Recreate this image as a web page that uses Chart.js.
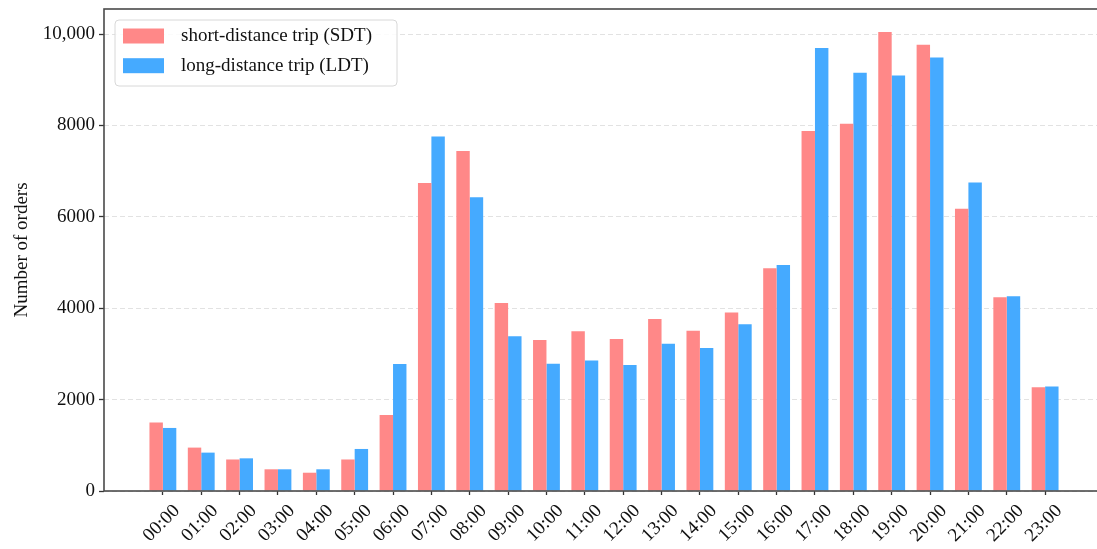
<!DOCTYPE html>
<html>
<head>
<meta charset="utf-8">
<title>Orders by hour</title>
<script src="https://cdn.jsdelivr.net/npm/chart.js@4/dist/chart.umd.min.js"></script>
<style>
  html, body { margin: 0; padding: 0; background: #fff; overflow: hidden; }
  #wrap { width: 1112px; height: 549px; }
</style>
</head>
<body>
<div id="wrap"><canvas id="orders" width="1112" height="549"></canvas></div>
<script>
// hourly order counts
const hours = ['00:00', '01:00', '02:00', '03:00', '04:00', '05:00', '06:00', '07:00',
  '08:00', '09:00', '10:00', '11:00', '12:00', '13:00', '14:00', '15:00',
  '16:00', '17:00', '18:00', '19:00', '20:00', '21:00', '22:00', '23:00'];
const sdt = [1500, 950, 690, 475, 400, 690, 1665, 6740, 7440, 4115, 3305, 3495,
  3325, 3765, 3510, 3905, 4875, 7880, 8040, 10045, 9770, 6180, 4240, 2270];
const ldt = [1380, 840, 715, 475, 475, 920, 2780, 7760, 6430, 3385, 2785, 2855,
  2760, 3225, 3130, 3650, 4945, 9695, 9155, 9095, 9490, 6750, 4265, 2290];
const yTicks = [0, 2000, 4000, 6000, 8000, 10000];
const yTickLabels = ['0', '2000', '4000', '6000', '8000', '10,000'];
const seriesNames = ['short-distance trip (SDT)', 'long-distance trip (LDT)'];

const FONT = '"Liberation Serif", "Times New Roman", serif';
const colors = ['#ff8888', '#45aaff'];

// box around the plot plus the legend in the top-left corner
const frameAndLegend = {
  id: 'frameAndLegend',
  afterDraw(chart) {
    const {ctx, chartArea: a} = chart;
    ctx.save();
    ctx.strokeStyle = '#4a4a4a';
    ctx.lineWidth = 1.6;
    ctx.strokeRect(a.left, a.top, a.right - a.left, a.bottom - a.top);

    const bx = a.left + 11, by = a.top + 11, bw = 282, bh = 66;
    ctx.beginPath();
    ctx.roundRect(bx, by, bw, bh, 4);
    ctx.fillStyle = 'rgba(255,255,255,0.85)';
    ctx.fill();
    ctx.strokeStyle = '#d8d8d8';
    ctx.lineWidth = 1;
    ctx.stroke();

    ctx.font = '19px ' + FONT;
    ctx.textBaseline = 'middle';
    chart.data.datasets.forEach((ds, i) => {
      const rowY = by + 16 + i * 29.7;
      ctx.fillStyle = ds.backgroundColor;
      ctx.fillRect(bx + 8, rowY - 7.5, 41, 15);
      ctx.fillStyle = '#111';
      ctx.fillText(ds.label, bx + 66, rowY);
    });
    ctx.restore();
  }
};

new Chart(document.getElementById('orders'), {
  type: 'bar',
  data: {
    datasets: [
      {
        label: seriesNames[0],
        data: sdt.map((v, i) => ({x: i, y: v})),
        backgroundColor: colors[0],
        borderWidth: 0,
      },
      {
        label: seriesNames[1],
        data: ldt.map((v, i) => ({x: i, y: v})),
        backgroundColor: colors[1],
        borderWidth: 0,
      },
    ],
  },
  options: {
    responsive: false,
    animation: false,
    layout: { padding: { left: 0, right: 8, top: 9, bottom: 0 } },
    categoryPercentage: 0.7,
    barPercentage: 1.0,
    plugins: {
      legend: { display: false },
      tooltip: { enabled: false },
    },
    scales: {
      x: {
        type: 'linear',
        offset: false,
        min: -1.535,
        max: 24.535,
        afterBuildTicks: (scale) => {
          scale.ticks = hours.map((_, i) => ({value: i}));
        },
        afterFit: (scale) => {
          scale.height = 58;
          scale.paddingLeft = 0;
          scale.paddingRight = 0;
        },
        grid: {
          offset: false,
          drawOnChartArea: false,
          drawTicks: true,
          tickLength: 4,
          tickColor: '#333',
          tickWidth: 1.3,
        },
        border: { display: false },
        ticks: {
          autoSkip: false,
          maxRotation: 45,
          minRotation: 45,
          padding: 5,
          labelOffset: 14,
          color: '#111',
          font: { family: FONT, size: 19 },
          callback: (v) => hours[v],
        },
      },
      y: {
        min: 0,
        max: 10550,
        afterBuildTicks: (scale) => {
          scale.ticks = yTicks.map(v => ({value: v}));
        },
        afterFit: (scale) => {
          scale.width = 104;
          scale.paddingTop = 0;
          scale.paddingBottom = 0;
        },
        grid: {
          color: '#e2e2e2',
          lineWidth: 1,
          drawTicks: true,
          tickLength: 5,
          tickColor: '#333',
          tickWidth: 1.3,
        },
        border: { display: false, dash: [5, 3] },
        ticks: {
          padding: 4,
          color: '#111',
          font: { family: FONT, size: 19 },
          callback: (v) => yTickLabels[yTicks.indexOf(v)],
        },
        title: {
          display: true,
          text: 'Number of orders',
          color: '#111',
          font: { family: FONT, size: 19 },
          padding: { top: 11, bottom: 0 },
        },
      },
    },
  },
  plugins: [frameAndLegend],
});
</script>
</body>
</html>
